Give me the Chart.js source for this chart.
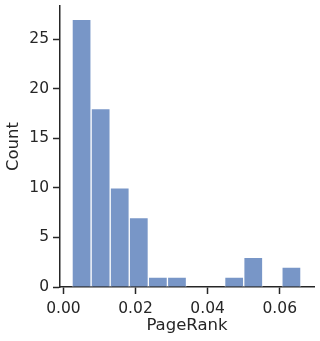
<!DOCTYPE html>
<html>
<head>
<meta charset="utf-8">
<script src="https://cdn.jsdelivr.net/npm/chart.js@4"></script>
<style>
  html, body { margin: 0; padding: 0; background: #fff; }
  #wrap { width: 320px; height: 341px; }
</style>
</head>
<body>
<div id="wrap"><canvas id="chart" width="320" height="341"></canvas></div>
<script>
// histogram bins (PageRank), 12 bins
const BIN_START = 0.0024;
const BIN_WIDTH = 0.00529;
const counts = [27, 18, 10, 7, 1, 1, 0, 0, 1, 3, 0, 2];
const xTicks = [0, 0.02, 0.04, 0.06];
const yTicks = [0, 5, 10, 15, 20, 25];

const BAR_COLOR = '#7896c7';
const AXIS_COLOR = '#262626';
const FONT = 'DejaVu Sans, sans-serif';

const points = counts.map((c, i) => ({ x: BIN_START + BIN_WIDTH * (i + 0.5), y: c }));

new Chart(document.getElementById('chart').getContext('2d'), {
  type: 'bar',
  data: {
    datasets: [{
      data: points,
      backgroundColor: BAR_COLOR,
      borderColor: '#ffffff',
      borderWidth: 1,
      barPercentage: 1,
      categoryPercentage: 1
    }]
  },
  options: {
    responsive: false,
    animation: false,
    layout: { padding: { top: 6, right: 6, left: 0, bottom: 5 } },
    plugins: { legend: { display: false }, tooltip: { enabled: false } },
    scales: {
      x: {
        type: 'linear',
        offset: false,
        min: -0.00094,
        max: 0.0695,
        afterBuildTicks: s => { s.ticks = xTicks.map(v => ({ value: v })); },
        afterFit: s => { s.height = 49; },
        ticks: {
          color: AXIS_COLOR,
          font: { family: FONT, size: 15.5 },
          padding: 6,
          maxRotation: 0,
          callback: v => v.toFixed(2)
        },
        grid: { offset: false, drawOnChartArea: false, drawTicks: true, tickLength: 7, tickWidth: 1.5, tickColor: AXIS_COLOR },
        border: { display: true, color: AXIS_COLOR, width: 1.5 },
        title: { display: true, text: 'PageRank', color: AXIS_COLOR, font: { family: FONT, size: 16.5 }, padding: { top: 0, bottom: 0 } }
      },
      y: {
        type: 'linear',
        min: 0,
        max: 28.35,
        afterBuildTicks: s => { s.ticks = yTicks.map(v => ({ value: v })); },
        afterFit: s => { s.width = 60; s.paddingTop = 0; s.paddingBottom = 0; },
        ticks: {
          color: AXIS_COLOR,
          font: { family: FONT, size: 15.5 },
          padding: 4
        },
        grid: { drawOnChartArea: false, drawTicks: true, tickLength: 7, tickWidth: 1.5, tickColor: AXIS_COLOR },
        border: { display: true, color: AXIS_COLOR, width: 1.5 },
        title: { display: true, text: 'Count', color: AXIS_COLOR, font: { family: FONT, size: 16.5 }, padding: { top: 4, bottom: 0 } }
      }
    }
  }
});
</script>
</body>
</html>
